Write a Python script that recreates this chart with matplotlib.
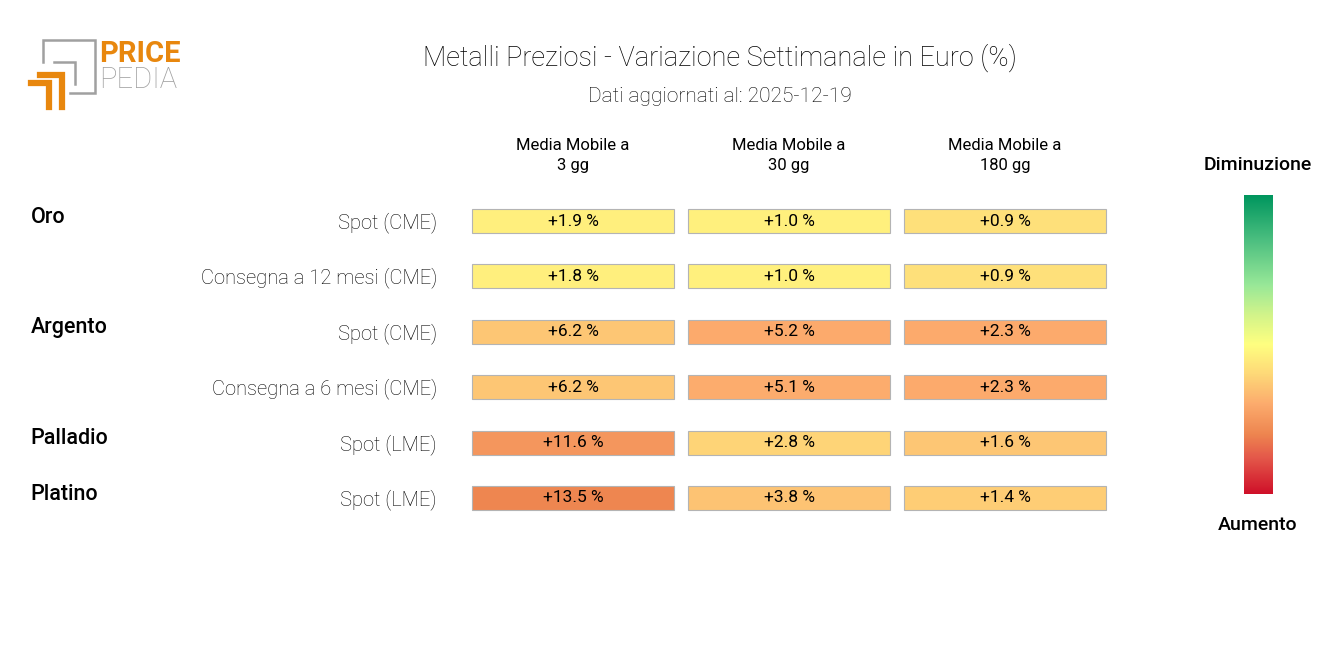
import numpy as np
import matplotlib
matplotlib.use("Agg")
import matplotlib.pyplot as plt
from matplotlib.colors import LinearSegmentedColormap
from matplotlib.patches import Rectangle

plt.rcParams['font.family'] = ['Roboto', 'DejaVu Sans']

title = "Metalli Preziosi - Variazione Settimanale in Euro (%)"
subtitle = "Dati aggiornati al: 2025-12-19"
columns = ["Media Mobile a\n3 gg", "Media Mobile a\n30 gg", "Media Mobile a\n180 gg"]
groups = ["Oro", "", "Argento", "", "Palladio", "Platino"]
rows = ["Spot (CME)", "Consegna a 12 mesi (CME)", "Spot (CME)",
        "Consegna a 6 mesi (CME)", "Spot (LME)", "Spot (LME)"]
mm3 = [1.9, 1.8, 6.2, 6.2, 11.6, 13.5]
mm30 = [1.0, 1.0, 5.2, 5.1, 2.8, 3.8]
mm180 = [0.9, 0.9, 2.3, 2.3, 1.6, 1.4]
# colour range of each column (the scale is set column by column)
scale_range = [45, 26, 11.5]

values = np.array([mm3, mm30, mm180]).T

cmap = LinearSegmentedColormap.from_list("pp", [
    (0.0, "#cf1029"), (0.12, "#e4584a"), (0.2, "#ee8650"), (0.3, "#fcab6d"),
    (0.4, "#fed878"), (0.5, "#ffff80"), (0.6, "#d2f48a"), (0.7, "#98e898"),
    (0.85, "#4cbf80"), (1.0, "#00965e")])

W, H = 1320, 645
fig = plt.figure(figsize=(W / 100, H / 100), dpi=100)

def fx(x):
    return x / W

def fy(y):
    return 1 - y / H

# table of cells
ax = fig.add_axes([fx(465), fy(525.7), fx(1113 - 465), (525.7 - 193.3) / H])
ax.set_xlim(-0.5, 2.5)
ax.set_ylim(5.5, -0.5)
ax.axis("off")
cw, ch = 0.935, 0.435
for i in range(len(rows)):
    for j in range(len(columns)):
        v = values[i, j]
        t = 0.5 - v / scale_range[j]
        ax.add_patch(Rectangle((j - cw / 2, i - ch / 2), cw, ch,
                               facecolor=cmap(t), edgecolor="#b4b4b4", lw=0.8))
        ax.text(j, i, f"{v:+.1f} %", ha="center", va="center", fontsize=12.5,
                color="black")
    ax.text(-0.63, i + 0.03, rows[i], ha="right", va="center", fontsize=14.5,
            fontweight="light", color="black")
    if groups[i]:
        ax.text(-2.51, i - 0.07, groups[i], ha="left", va="center", fontsize=15.5,
                fontweight="medium", color="black")
for j, c in enumerate(columns):
    ax.text(j, -1.18, c, ha="center", va="center", fontsize=12,
            linespacing=1.4, color="black")

# titles
fig.text(fx(720), fy(58), title, ha="center", va="center", fontsize=19.5,
         fontweight="light", color="black")
fig.text(fx(720), fy(97), subtitle, ha="center", va="center", fontsize=15,
         fontweight="light", color="black")

# colour bar
cax = fig.add_axes([fx(1244), fy(494), fx(29), 299 / H])
grad = np.linspace(0, 1, 256).reshape(-1, 1)
cax.imshow(grad, aspect="auto", cmap=cmap, origin="lower")
cax.axis("off")
fig.text(fx(1258), fy(165), "Diminuzione", ha="center", va="center",
         fontsize=14, fontweight="medium")
fig.text(fx(1258), fy(525), "Aumento", ha="center", va="center",
         fontsize=14, fontweight="medium")

# logo
lax = fig.add_axes([0, 0, 1, 1], zorder=-1)
lax.set_xlim(0, W)
lax.set_ylim(H, 0)
lax.axis("off")
gray = "#a0a0a0"
orange = "#e8870e"
lax.plot([43, 43, 95, 95, 70], [62, 40, 40, 93, 93], color=gray, lw=1.8,
         solid_joinstyle="miter")
lax.plot([54, 75, 75], [62, 62, 84], color=gray, lw=1.8, solid_joinstyle="miter")
lax.plot([40, 62, 62], [75, 75, 107], color=orange, lw=4.5, solid_joinstyle="miter")
lax.plot([31, 49, 49], [83, 83, 107], color=orange, lw=4.5, solid_joinstyle="miter")
lax.text(99, 54, "PRICE", ha="left", va="center", fontsize=21,
         fontweight="bold", color=orange)
lax.text(99, 80, "PEDIA", ha="left", va="center", fontsize=21,
         fontweight="light", color=gray)

fig.savefig("out.png", dpi=100)
